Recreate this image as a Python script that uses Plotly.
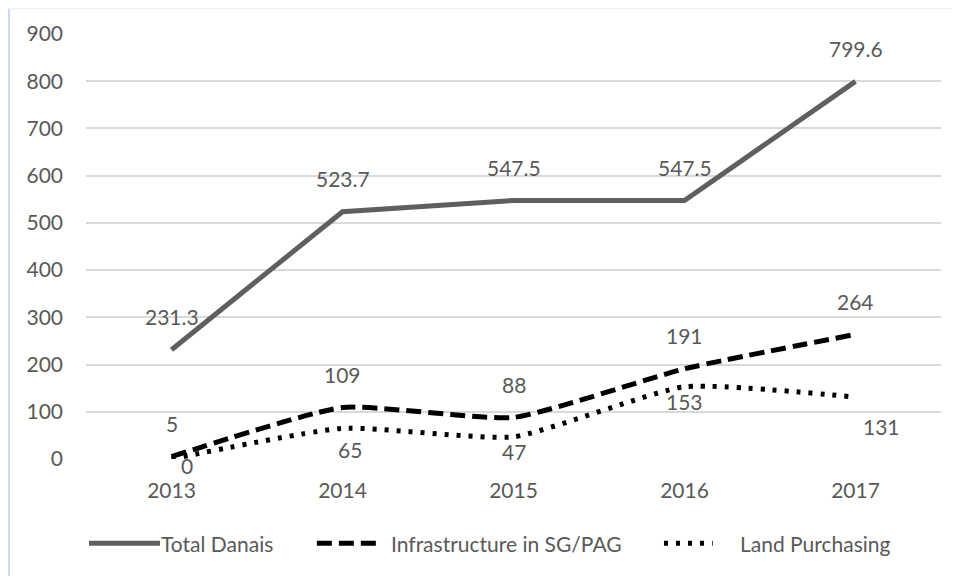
import plotly.graph_objects as go

years = ["2013", "2014", "2015", "2016", "2017"]
total_danais = [231.3, 523.7, 547.5, 547.5, 799.6]
infrastructure = [5, 109, 88, 191, 264]
land_purchasing = [0, 65, 47, 153, 131]
y_ticks = [0, 100, 200, 300, 400, 500, 600, 700, 800, 900]

TEXT = "#595959"
FONT = "Lato, sans-serif"
FSIZE = 21

SERIES = [
    dict(name="Total Danais", y=total_danais, color="#5f5f5f", dash="solid", shape="linear"),
    dict(name="Infrastructure in SG/PAG", y=infrastructure, color="#000000", dash="15px,7px", shape="spline"),
    dict(name="Land Purchasing", y=land_purchasing, color="#000000", dash="4px,8px", shape="spline"),
]

# label offsets (pixels), as placed in the source chart
label_shifts = [
    [(0, 33)] * 5,
    [(0, 33)] * 5,
    [(15, -6), (7, -21), (0, -15), (0, -15), (26, -29)],
]

fig = go.Figure()
annotations = []
for s, shifts in zip(SERIES, label_shifts):
    fig.add_trace(go.Scatter(
        x=years, y=s["y"], name=s["name"], mode="lines",
        line=dict(color=s["color"], width=5, dash=s["dash"], shape=s["shape"],
                  smoothing=0.5),
        showlegend=False,
    ))
    # category axis: annotations are placed by category index
    for i, (v, (dx, dy)) in enumerate(zip(s["y"], shifts)):
        annotations.append(dict(
            x=i, y=v, xref="x", yref="y", text=f"{v:g}", showarrow=False,
            xshift=dx, yshift=dy, font=dict(size=FSIZE, color=TEXT, family=FONT),
        ))

# hand-drawn legend below the plot
legend_items = [
    (0.0035, 0.0865, 0.085),
    (0.270, 0.347, 0.354),
    (0.676, 0.733, 0.762),
]
shapes = []
for s, (x0, x1, xt) in zip(SERIES, legend_items):
    shapes.append(dict(type="line", xref="paper", yref="paper", x0=x0, x1=x1,
                       y0=-0.198, y1=-0.198,
                       line=dict(color=s["color"], width=5, dash=s["dash"])))
    annotations.append(dict(xref="paper", yref="paper", x=xt, y=-0.198, text=s["name"],
                            showarrow=False, xanchor="left", yanchor="middle",
                            font=dict(size=FSIZE, color=TEXT, family=FONT)))

# frame edges of the chart area
shapes.append(dict(type="line", xref="paper", yref="paper", x0=-0.09, x1=-0.09,
                   y0=-0.3, y1=1.06, line=dict(color="#cadcf2", width=2)))
shapes.append(dict(type="line", xref="paper", yref="paper", x0=-0.09, x1=1.05,
                   y0=1.06, y1=1.06, line=dict(color="#eef2f8", width=1.5)))

fig.update_layout(
    width=960, height=576,
    paper_bgcolor="white", plot_bgcolor="white",
    font=dict(family=FONT, size=FSIZE, color=TEXT),
    margin=dict(l=78, r=27, t=26, b=125),
    annotations=annotations, shapes=shapes,
    xaxis=dict(type="category", categoryorder="array", categoryarray=years,
               showgrid=False, showline=False, zeroline=False, ticks="",
               ticklabelstandoff=17, range=[-0.5, 4.5]),
    yaxis=dict(range=[0, 900], tickvals=y_ticks, gridcolor="#d9d9d9", gridwidth=1.5,
               zeroline=False, showline=False, ticks="", ticklabelstandoff=22),
)

fig.write_html("out.html")
